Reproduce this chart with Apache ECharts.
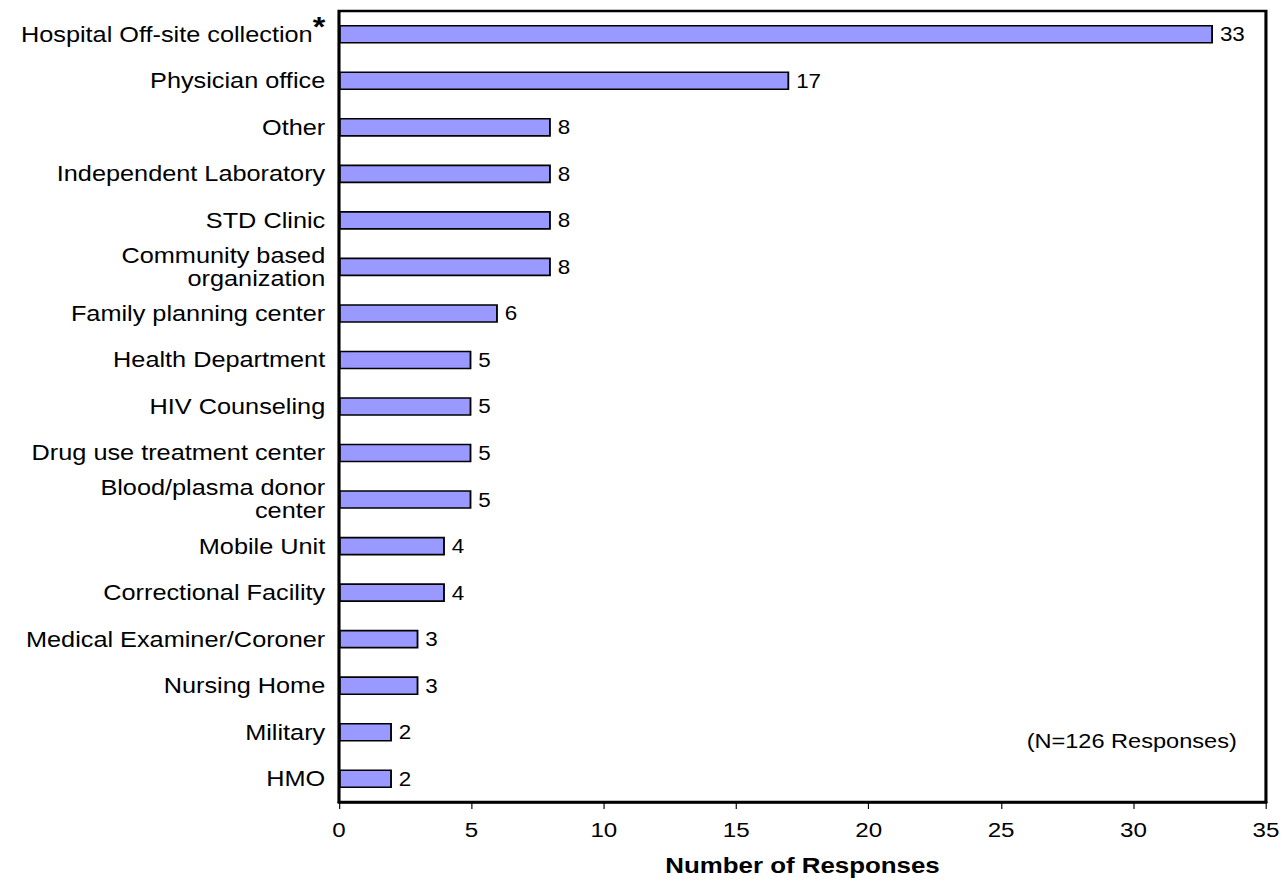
<!DOCTYPE html>
<html>
<head>
<meta charset="utf-8">
<title>Number of Responses by Collection Site</title>
<script src="https://cdn.jsdelivr.net/npm/echarts@6/dist/echarts.min.js"></script>
<style>
  html, body { margin: 0; padding: 0; background: #fff; overflow: hidden; }
  /* the chart is laid out narrower and widened, giving the wide lettering */
  #chart { width: 1117px; height: 882px; transform: scaleX(1.14951); transform-origin: 0 0; }
</style>
</head>
<body>
<div id="chart"></div>
<script>
// Collection sites, top to bottom
const categories = [
  'Hospital Off-site collection',
  'Physician office',
  'Other',
  'Independent Laboratory',
  'STD Clinic',
  'Community based\norganization',
  'Family planning center',
  'Health Department',
  'HIV Counseling',
  'Drug use treatment center',
  'Blood/plasma donor\ncenter',
  'Mobile Unit',
  'Correctional Facility',
  'Medical Examiner/Coroner',
  'Nursing Home',
  'Military',
  'HMO'
];
// Number of responses per site
const responses = [33, 17, 8, 8, 8, 8, 6, 5, 5, 5, 5, 4, 4, 3, 3, 2, 2];
// Sites flagged with an asterisk
const starred = ['Hospital Off-site collection'];
const xTicks = [0, 5, 10, 15, 20, 25, 30, 35];
const noteText = '(N=126 Responses)';

const FONT = '"Liberation Sans", Arial, Helvetica, sans-serif';

const chart = echarts.init(document.getElementById('chart'), null, { renderer: 'svg' });

chart.setOption({
  backgroundColor: '#ffffff',
  animation: false,
  textStyle: { fontFamily: FONT, color: '#000' },
  grid: {
    left: 294.9, right: 15.7, top: 11, bottom: 76,
    show: true, borderColor: '#000', borderWidth: 2.7, backgroundColor: 'transparent'
  },
  xAxis: {
    type: 'value',
    min: xTicks[0],
    max: xTicks[xTicks.length - 1],
    interval: xTicks[1] - xTicks[0],
    splitLine: { show: false },
    axisLine: { show: true, lineStyle: { color: '#000', width: 2.7 } },
    axisTick: { show: true, length: 7, lineStyle: { color: '#000', width: 1 } },
    axisLabel: { color: '#000', fontSize: 21, fontFamily: FONT, margin: 18 },
    name: 'Number of Responses',
    nameLocation: 'middle',
    nameGap: 52,
    nameTextStyle: { color: '#000', fontSize: 22.5, fontWeight: 'bold', fontFamily: FONT }
  },
  yAxis: {
    type: 'category',
    data: categories,
    inverse: true,
    axisLine: { show: false },
    axisTick: { show: false },
    splitLine: { show: false },
    axisLabel: {
      color: '#000', fontSize: 22, lineHeight: 23, fontFamily: FONT, margin: 12,
      formatter: (v) => starred.includes(v) ? v + '{star|*}' : v,
      rich: {
        star: {
          fontSize: 28, fontWeight: 'bold', fontFamily: FONT, color: '#000',
          padding: [0, 0, 16, 0]
        }
      }
    }
  },
  series: [{
    type: 'bar',
    data: responses,
    barWidth: '40%',
    itemStyle: { color: '#9999ff', borderColor: '#000', borderWidth: 1.6 },
    label: {
      show: true, position: 'right', distance: 6,
      color: '#000', fontSize: 19.5, fontFamily: FONT
    }
  }],
  graphic: [{
    type: 'text',
    right: 41,
    top: 731,
    style: { text: noteText, fill: '#000', fontSize: 20.5, fontFamily: FONT }
  }]
});
</script>
</body>
</html>
